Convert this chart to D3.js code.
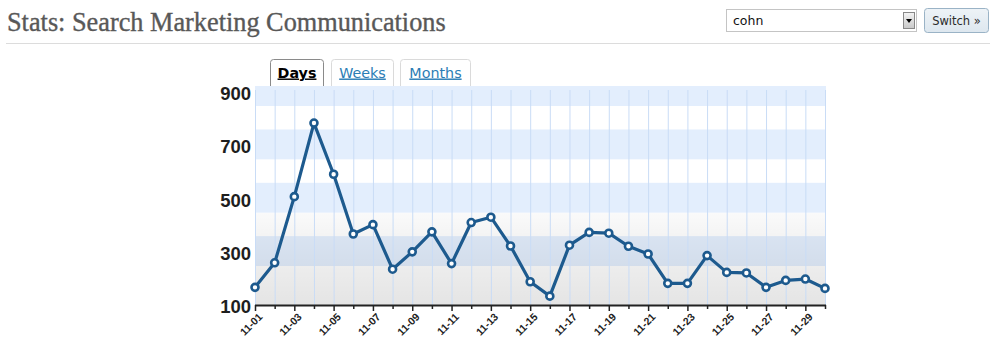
<!DOCTYPE html>
<html><head><meta charset="utf-8">
<script src="https://cdn.jsdelivr.net/npm/d3@7"></script>
<style>html,body{margin:0;padding:0;background:#fff;}svg{display:block;}</style>
</head><body>
<svg id="c" width="1006" height="354"></svg>
<script>
const days = ["11-01","11-02","11-03","11-04","11-05","11-06","11-07","11-08","11-09","11-10",
  "11-11","11-12","11-13","11-14","11-15","11-16","11-17","11-18","11-19","11-20",
  "11-21","11-22","11-23","11-24","11-25","11-26","11-27","11-28","11-29","11-30"];
const visits = [170,262,510,786,594,370,405,238,303,378,259,413,433,325,191,137,328,376,373,324,295,185,185,289,226,224,170,196,201,166];
const yTicks = [100,300,500,700,900];
const bandCenters = [300,500,700,900];
const tabs = ["Days","Weeks","Months"];
const titleText = "Stats: Search Marketing Communications";
const selectValue = "cohn";
const buttonText = "Switch »";

const svg = d3.select("#c");
const x = d3.scalePoint().domain(days).range([255, 825]);
const y = d3.scaleLinear().domain([100, 925]).range([306, 86]);
const x0 = 255, x1 = 826;

// header
const title = svg.append("text").attr("x", 7).attr("y", 31)
  .attr("font-family", "'Liberation Serif', Georgia, serif").attr("font-size", 24)
  .attr("fill", "#585858").attr("stroke", "#585858").attr("stroke-width", 0.35).text(titleText);
const w = title.node().getComputedTextLength();
title.attr("font-size", 24 * 439 / w);
svg.append("line").attr("x1", 6).attr("x2", 990).attr("y1", 43.5).attr("y2", 43.5)
  .attr("stroke", "#dcdcdc");

// select box
const defs = svg.append("defs");
const g1 = defs.append("linearGradient").attr("id","btn").attr("x1",0).attr("y1",0).attr("x2",0).attr("y2",1);
g1.append("stop").attr("offset","0%").attr("stop-color","#f4f4f4");
g1.append("stop").attr("offset","100%").attr("stop-color","#c8c8c8");
svg.append("rect").attr("x",726.5).attr("y",9.5).attr("width",190).attr("height",22)
  .attr("fill","#fff").attr("stroke","#c4c4c4");
svg.append("text").attr("x",733).attr("y",25).attr("font-family","'DejaVu Sans', sans-serif")
  .attr("font-size",12.5).attr("fill","#111").text(selectValue);
svg.append("rect").attr("x",903.5).attr("y",12.5).attr("width",11).attr("height",16)
  .attr("fill","url(#btn)").attr("stroke","#888");
svg.append("path").attr("d","M906,19 L912,19 L909,23 Z").attr("fill","#000");
// button
const g2 = defs.append("linearGradient").attr("id","sw").attr("x1",0).attr("y1",0).attr("x2",0).attr("y2",1);
g2.append("stop").attr("offset","0%").attr("stop-color","#eef3f7");
g2.append("stop").attr("offset","100%").attr("stop-color","#dde7ef");
svg.append("rect").attr("x",924.5).attr("y",8.5).attr("width",64).attr("height",24).attr("rx",3)
  .attr("fill","url(#sw)").attr("stroke","#9ab3c6");
svg.append("text").attr("x",956.5).attr("y",25).attr("text-anchor","middle")
  .attr("font-family","'DejaVu Sans', sans-serif").attr("font-size",11.5).attr("fill","#2a2a2a").text(buttonText);

// tabs
const tabX = [270.5, 331.5, 400.5], tabW = [53, 62, 70];
tabs.forEach((t, i) => {
  svg.append("path")
    .attr("d", `M${tabX[i]},87 L${tabX[i]},${62.5} Q${tabX[i]},59.5 ${tabX[i]+3},59.5 L${tabX[i]+tabW[i]-3},59.5 Q${tabX[i]+tabW[i]},59.5 ${tabX[i]+tabW[i]},62.5 L${tabX[i]+tabW[i]},87`)
    .attr("fill", "#fff").attr("stroke", i === 0 ? "#8a8a8a" : "#dadada");
  svg.append("text").attr("x", tabX[i] + tabW[i]/2).attr("y", 77.5).attr("text-anchor","middle")
    .attr("font-family","'DejaVu Sans', Verdana, sans-serif").attr("font-size",14.3)
    .attr("font-weight", i === 0 ? "bold" : "normal")
    .attr("fill", i === 0 ? "#000" : "#2b7db5")
    .attr("text-decoration","underline").text(t);
});

// plot background
svg.append("rect").attr("x", x0).attr("y", y(925)).attr("width", x1 - x0).attr("height", y(100) - y(925)).attr("fill", "#fff");
svg.selectAll("rect.band").data(bandCenters).join("rect").attr("class","band")
  .attr("x", x0).attr("width", x1 - x0)
  .attr("y", d => y(Math.min(925, d + 62)))
  .attr("height", d => y(d - 50) - y(Math.min(925, d + 62)))
  .attr("fill", "#e3eefd");
const g3 = defs.append("linearGradient").attr("id","shade").attr("x1",0).attr("y1",0).attr("x2",0).attr("y2",1);
g3.append("stop").attr("offset","0%").attr("stop-color","#000").attr("stop-opacity",0.02);
g3.append("stop").attr("offset","30%").attr("stop-color","#000").attr("stop-opacity",0.05);
g3.append("stop").attr("offset","100%").attr("stop-color","#000").attr("stop-opacity",0.105);
svg.append("rect").attr("x", x0).attr("width", x1 - x0).attr("y", y(449)).attr("height", y(100) - y(449))
  .attr("fill", "url(#shade)");

// vertical grid
svg.selectAll("line.vg").data(days).join("line").attr("class","vg")
  .attr("x1", d => x(d) + 0.5).attr("x2", d => x(d) + 0.5)
  .attr("y1", 90).attr("y2", y(100))
  .attr("stroke", "#c9dcf6").attr("stroke-width", 1);

// x axis
svg.append("line").attr("x1", x0).attr("x2", x1).attr("y1", 305.5).attr("y2", 305.5)
  .attr("stroke", "#222").attr("stroke-width", 2);
svg.selectAll("line.xt").data(days).join("line").attr("class","xt")
  .attr("x1", d => x(d) + 0.5).attr("x2", d => x(d) + 0.5)
  .attr("y1", 305).attr("y2", (d, i) => i % 2 === 0 ? 311 : 309)
  .attr("stroke", "#222").attr("stroke-width", 1.5);
svg.selectAll("text.xl").data(days.filter((d, i) => i % 2 === 0)).join("text").attr("class","xl")
  .attr("transform", d => `translate(${x(d) + 5.5},${315}) rotate(-45)`)
  .attr("text-anchor","end").attr("dy","0.35em")
  .attr("font-family","'Liberation Sans', Arial, sans-serif").attr("font-weight","bold")
  .attr("font-size",10.5).attr("fill","#222").text(d => d);

// y labels
svg.selectAll("text.yl").data(yTicks).join("text").attr("class","yl")
  .attr("x", 251).attr("y", d => y(d) + 1).attr("dy","0.35em").attr("text-anchor","end")
  .attr("font-family","'Liberation Sans', Arial, sans-serif").attr("font-weight","bold")
  .attr("font-size",18.5).attr("fill","#1e1e1e").text(d => d);

// line
const line = d3.line().x((d, i) => x(days[i])).y(d => y(d));
svg.append("path").datum(visits).attr("d", line).attr("fill","none")
  .attr("stroke","#1d5a8e").attr("stroke-width",3.2).attr("stroke-linejoin","round");
svg.selectAll("circle.pt").data(visits).join("circle").attr("class","pt")
  .attr("cx", (d, i) => x(days[i])).attr("cy", d => y(d)).attr("r", 3.5)
  .attr("fill","#fff").attr("stroke","#1d5a8e").attr("stroke-width",2.6);
</script>
</body></html>
